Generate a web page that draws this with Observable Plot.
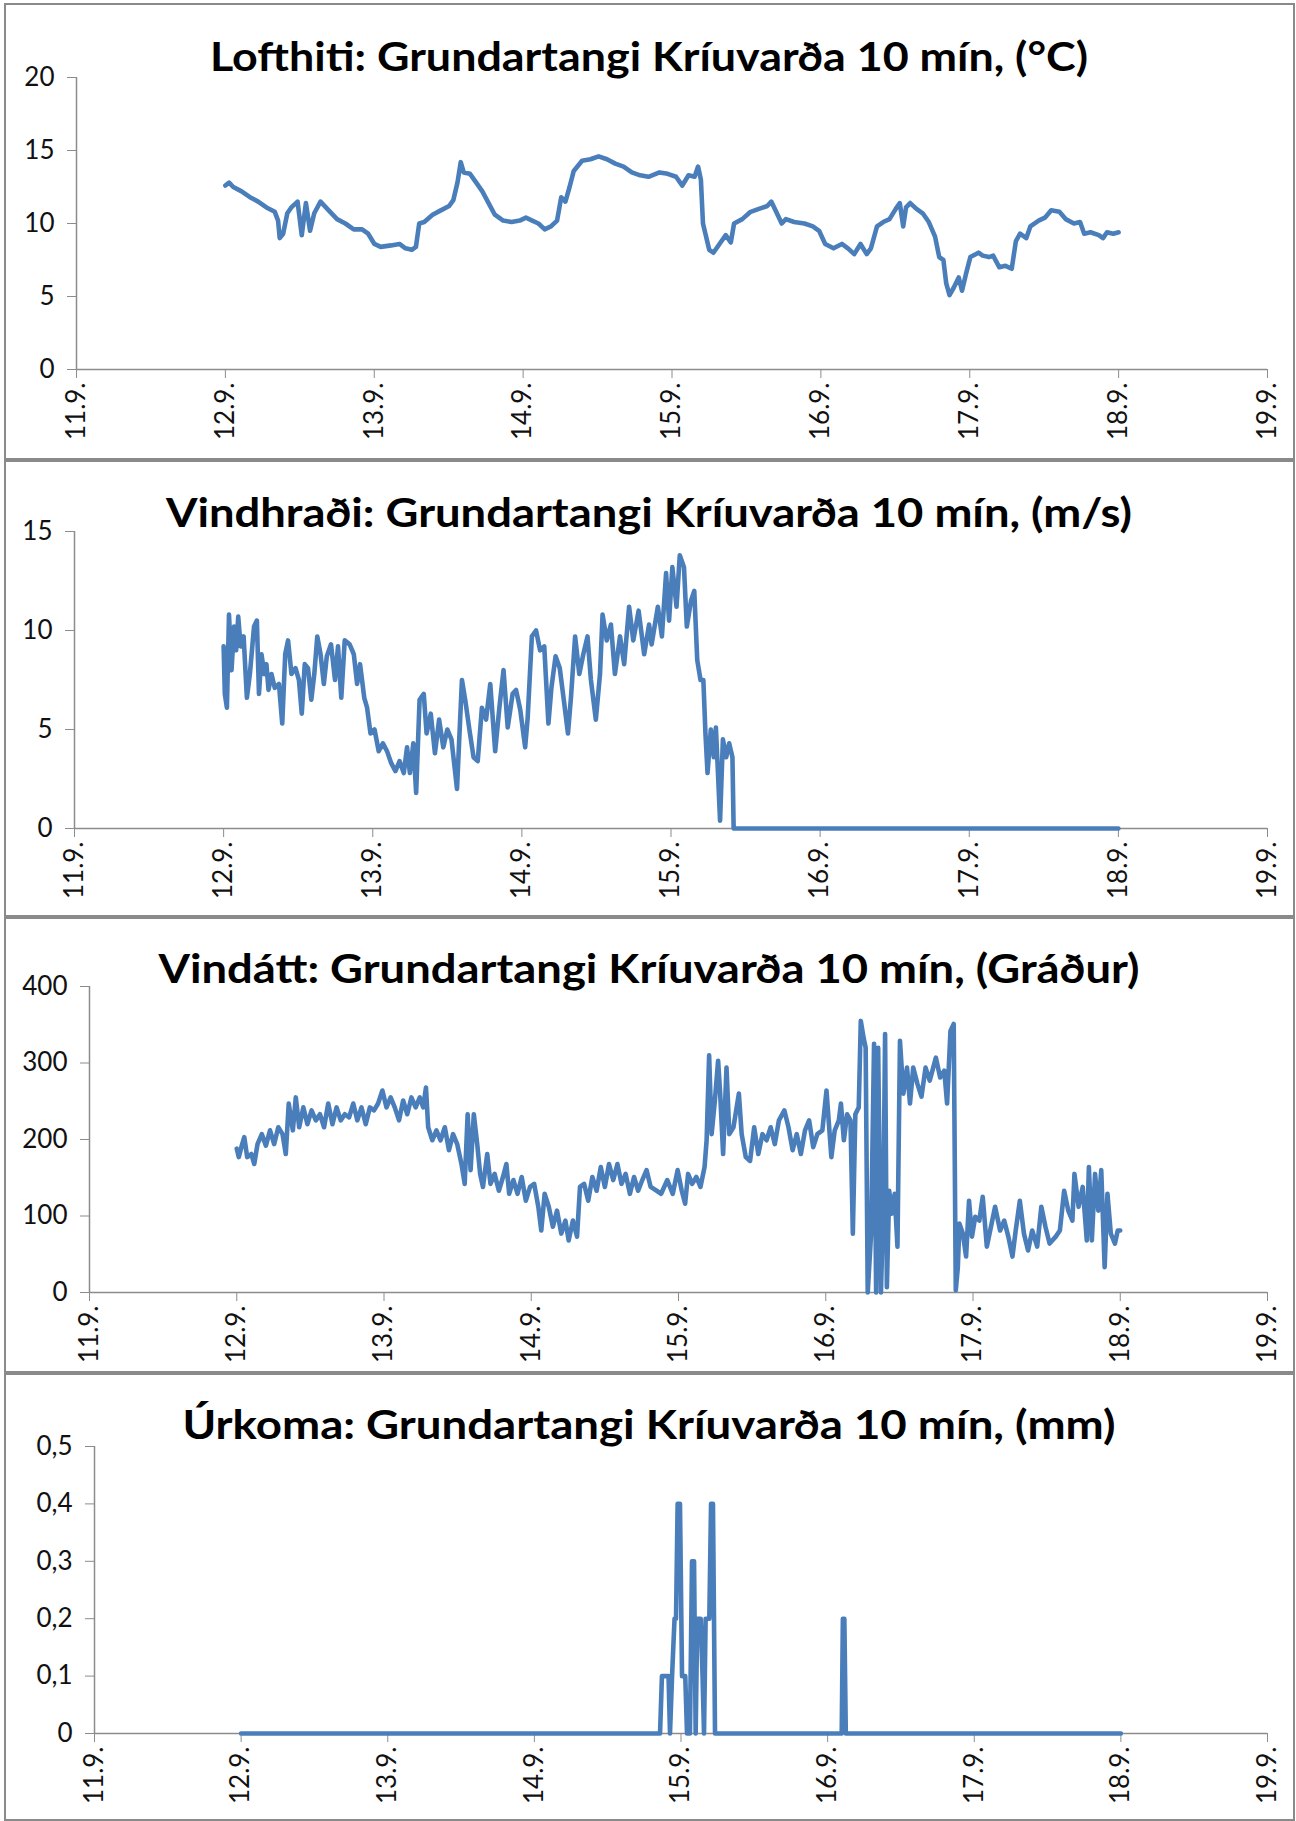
<!DOCTYPE html>
<html><head><meta charset="utf-8">
<script src="https://cdn.jsdelivr.net/npm/d3@7"></script>
<script src="https://cdn.jsdelivr.net/npm/@observablehq/plot@0.6"></script>
<style>
body{margin:0;background:#fff;}
#page{position:relative;width:1296px;height:1821px;background:#fff;overflow:hidden;}
.box{position:absolute;box-sizing:border-box;border:2px solid #8a8a8a;left:4px;width:1291px;}
.chart{position:absolute;left:0;}
.chart text{font-size:26px;}
</style></head><body><div id="page"></div>
<script>
// ---------- data (day of September, fractional; value) ----------
const titles = [
  "Lofthiti: Grundartangi Kríuvarða 10 mín, (°C)",
  "Vindhraði: Grundartangi Kríuvarða 10 mín, (m/s)",
  "Vindátt: Grundartangi Kríuvarða 10 mín, (Gráður)",
  "Úrkoma: Grundartangi Kríuvarða 10 mín, (mm)"
];
const xTicks = [11, 12, 13, 14, 15, 16, 17, 18, 19];
const xTickLabels = ["11.9.", "12.9.", "13.9.", "14.9.", "15.9.", "16.9.", "17.9.", "18.9.", "19.9."];
const yTicksTemp = [0, 5, 10, 15, 20];
const yTicksWind = [0, 5, 10, 15];
const yTicksDir = [0, 100, 200, 300, 400];
const yTicksRain = [0, 0.1, 0.2, 0.3, 0.4, 0.5];

const temperature = [
[12.000,12.6],[12.025,12.8],[12.053,12.5],[12.109,12.2],[12.165,11.8],[12.220,11.5],[12.276,11.1],[12.332,10.8],[12.354,10.2],[12.365,9.0],
[12.388,9.3],[12.416,10.7],[12.443,11.1],[12.485,11.5],[12.513,9.2],[12.541,11.4],[12.569,9.5],[12.597,10.7],[12.639,11.5],[12.694,10.9],
[12.750,10.3],[12.806,10.0],[12.862,9.6],[12.918,9.6],[12.959,9.3],[13.001,8.6],[13.043,8.4],[13.113,8.5],[13.169,8.6],[13.210,8.3],
[13.252,8.2],[13.280,8.4],[13.302,10.0],[13.336,10.1],[13.392,10.6],[13.447,10.9],[13.503,11.2],[13.531,11.6],[13.559,12.8],[13.581,14.2],
[13.601,13.5],[13.643,13.4],[13.685,12.8],[13.726,12.2],[13.768,11.4],[13.810,10.6],[13.866,10.2],[13.922,10.1],[13.977,10.2],[14.019,10.4],
[14.061,10.2],[14.103,10.0],[14.145,9.6],[14.187,9.8],[14.228,10.2],[14.256,11.8],[14.284,11.5],[14.312,12.5],[14.340,13.6],[14.396,14.3],
[14.452,14.4],[14.507,14.6],[14.563,14.4],[14.619,14.1],[14.675,13.9],[14.730,13.5],[14.786,13.3],[14.842,13.2],[14.916,13.5],[14.971,13.4],
[15.027,13.2],[15.069,12.6],[15.111,13.3],[15.152,13.2],[15.175,13.9],[15.194,13.0],[15.208,10.0],[15.250,8.2],[15.278,8.0],[15.319,8.6],
[15.361,9.2],[15.395,8.7],[15.417,10.0],[15.472,10.3],[15.528,10.8],[15.584,11.0],[15.640,11.2],[15.667,11.5],[15.695,10.9],[15.737,10.0],
[15.765,10.3],[15.820,10.1],[15.890,10.0],[15.946,9.8],[15.988,9.5],[16.029,8.6],[16.085,8.3],[16.141,8.6],[16.182,8.3],[16.224,7.9],
[16.266,8.6],[16.308,7.9],[16.336,8.3],[16.377,9.8],[16.419,10.1],[16.461,10.3],[16.503,11.0],[16.530,11.4],[16.553,9.8],[16.572,11.1],
[16.600,11.4],[16.642,11.0],[16.684,10.7],[16.725,10.1],[16.767,9.1],[16.795,7.7],[16.823,7.5],[16.842,5.9],[16.864,5.1],[16.892,5.6],
[16.926,6.3],[16.948,5.4],[16.976,6.6],[17.004,7.7],[17.059,8.0],[17.087,7.8],[17.129,7.7],[17.157,7.8],[17.199,7.0],[17.240,7.1],
[17.282,6.9],[17.310,8.8],[17.338,9.3],[17.380,9.0],[17.407,9.8],[17.463,10.2],[17.505,10.4],[17.547,10.9],[17.602,10.8],[17.644,10.3],
[17.700,10.0],[17.741,10.1],[17.769,9.3],[17.811,9.4],[17.867,9.2],[17.895,9.0],[17.922,9.4],[17.964,9.3],[18.000,9.4]
];

const windSpeed = [
[12.000,9.2],[12.008,6.8],[12.022,6.1],[12.036,10.8],[12.053,8.0],[12.070,10.2],[12.084,9.0],[12.098,10.7],[12.114,9.2],[12.134,9.7],
[12.156,6.6],[12.176,7.8],[12.204,10.2],[12.223,10.5],[12.237,6.8],[12.254,8.8],[12.273,7.8],[12.287,8.3],[12.301,7.0],[12.321,7.8],
[12.343,7.1],[12.371,7.3],[12.393,5.3],[12.413,8.8],[12.432,9.5],[12.455,7.8],[12.482,8.1],[12.505,7.5],[12.524,5.8],[12.544,8.3],
[12.566,8.1],[12.588,6.5],[12.608,7.8],[12.628,9.7],[12.650,8.8],[12.672,7.3],[12.692,8.7],[12.720,9.3],[12.747,7.5],[12.767,9.2],
[12.789,6.6],[12.812,9.5],[12.845,9.3],[12.873,8.8],[12.895,7.3],[12.915,8.3],[12.943,6.6],[12.962,6.1],[12.985,4.8],[13.012,5.0],
[13.040,3.9],[13.068,4.3],[13.096,3.9],[13.124,3.3],[13.152,2.9],[13.180,3.4],[13.208,2.8],[13.230,4.1],[13.249,2.8],[13.272,4.3],
[13.291,1.8],[13.314,6.5],[13.342,6.8],[13.361,4.8],[13.389,5.8],[13.417,3.8],[13.445,5.5],[13.473,4.1],[13.500,5.0],[13.528,4.5],
[13.565,2.0],[13.598,7.5],[13.620,6.5],[13.648,5.0],[13.676,3.6],[13.704,3.4],[13.732,6.1],[13.760,5.5],[13.788,7.3],[13.821,3.9],
[13.849,6.1],[13.877,8.0],[13.905,5.1],[13.938,6.8],[13.961,7.0],[13.989,6.0],[14.022,4.1],[14.039,5.6],[14.067,9.7],[14.095,10.0],
[14.122,9.0],[14.150,9.2],[14.178,5.3],[14.198,7.1],[14.226,8.7],[14.254,8.1],[14.281,6.5],[14.309,4.8],[14.329,6.6],[14.357,9.7],
[14.385,7.8],[14.412,8.8],[14.440,9.7],[14.463,7.5],[14.496,5.5],[14.524,7.8],[14.541,10.8],[14.569,9.5],[14.597,10.3],[14.624,7.8],
[14.658,9.7],[14.686,8.3],[14.719,11.2],[14.747,9.5],[14.783,11.0],[14.820,8.8],[14.853,10.3],[14.870,9.3],[14.912,11.2],[14.939,9.7],
[14.967,12.9],[14.987,10.5],[15.009,13.2],[15.037,11.2],[15.059,13.8],[15.087,13.2],[15.106,10.2],[15.134,11.5],[15.156,12.0],[15.176,8.5],
[15.198,7.5],[15.217,7.5],[15.231,4.8],[15.245,2.8],[15.267,5.0],[15.287,3.6],[15.301,5.1],[15.315,2.8],[15.329,0.4],[15.348,4.5],
[15.370,3.6],[15.390,4.3],[15.412,3.6],[15.420,0],[18.000,0]
];

const windDirection = [
[12.000,188],[12.014,177],[12.034,192],[12.051,203],[12.071,177],[12.099,181],[12.119,168],[12.141,194],[12.170,207],[12.198,192],
[12.226,212],[12.254,194],[12.282,216],[12.311,207],[12.333,181],[12.353,247],[12.381,212],[12.401,255],[12.424,216],[12.452,242],
[12.480,220],[12.508,238],[12.537,225],[12.565,233],[12.593,216],[12.621,247],[12.650,220],[12.678,242],[12.706,225],[12.734,233],
[12.763,229],[12.791,247],[12.819,225],[12.847,242],[12.876,220],[12.904,242],[12.932,238],[12.960,247],[12.989,264],[13.017,242],
[13.045,255],[13.073,242],[13.102,225],[13.130,251],[13.158,233],[13.186,255],[13.215,242],[13.243,255],[13.266,242],[13.285,268],
[13.300,216],[13.328,199],[13.356,212],[13.384,199],[13.413,216],[13.441,186],[13.469,207],[13.497,194],[13.526,168],[13.548,142],
[13.568,233],[13.588,160],[13.610,233],[13.633,194],[13.653,155],[13.672,138],[13.701,181],[13.723,142],[13.751,155],[13.780,133],
[13.808,151],[13.831,168],[13.850,129],[13.879,147],[13.907,129],[13.935,151],[13.963,120],[13.992,138],[14.020,142],[14.048,112],
[14.068,81],[14.091,129],[14.119,112],[14.147,86],[14.175,107],[14.204,77],[14.232,94],[14.254,68],[14.283,94],[14.311,73],
[14.331,138],[14.359,142],[14.387,120],[14.415,151],[14.444,133],[14.472,164],[14.500,138],[14.528,168],[14.557,147],[14.585,168],
[14.613,142],[14.641,155],[14.670,129],[14.698,151],[14.726,133],[14.754,147],[14.783,160],[14.811,138],[14.852,133],[14.882,129],
[14.924,147],[14.961,129],[14.994,160],[15.022,133],[15.045,116],[15.065,155],[15.093,142],[15.121,151],[15.149,138],[15.177,164],
[15.191,199],[15.208,310],[15.225,207],[15.247,251],[15.269,303],[15.283,260],[15.303,181],[15.326,294],[15.345,207],[15.373,216],
[15.410,260],[15.429,207],[15.457,177],[15.486,172],[15.514,216],[15.542,181],[15.570,207],[15.598,199],[15.626,216],[15.654,194],
[15.682,225],[15.719,238],[15.747,216],[15.775,186],[15.803,207],[15.831,181],[15.859,212],[15.887,225],[15.915,190],[15.943,207],
[15.977,212],[16.005,264],[16.038,177],[16.061,212],[16.089,225],[16.103,247],[16.123,199],[16.145,233],[16.168,225],[16.184,77],
[16.201,233],[16.224,242],[16.238,355],[16.257,333],[16.271,320],[16.285,0],[16.308,77],[16.328,325],[16.342,0],[16.356,320],
[16.375,0],[16.392,129],[16.403,338],[16.415,7],[16.431,133],[16.448,103],[16.468,129],[16.487,60],[16.504,329],[16.527,260],
[16.552,294],[16.572,247],[16.594,294],[16.622,273],[16.650,256],[16.678,294],[16.706,277],[16.748,307],[16.777,281],[16.805,290],
[16.824,247],[16.847,342],[16.869,351],[16.883,3],[16.897,33],[16.908,90],[16.931,77],[16.953,47],[16.973,120],[16.993,73],
[17.015,99],[17.043,94],[17.066,125],[17.094,60],[17.122,86],[17.150,112],[17.184,81],[17.212,94],[17.240,73],[17.268,47],
[17.290,81],[17.318,120],[17.346,77],[17.374,55],[17.402,81],[17.436,60],[17.464,112],[17.492,86],[17.520,64],[17.562,73],
[17.590,81],[17.619,133],[17.647,107],[17.675,94],[17.689,155],[17.717,112],[17.745,138],[17.773,68],[17.787,164],[17.807,68],
[17.829,155],[17.851,107],[17.871,160],[17.894,33],[17.913,129],[17.936,77],[17.964,64],[17.983,81],[18.000,81]
];

const precipitation = [
[12.000,0],[14.857,0],[14.870,0.1],[14.915,0.1],[14.925,0],[14.939,0.1],[14.956,0.2],[14.966,0.2],[14.977,0.4],[14.993,0.4],
[15.007,0.1],[15.029,0.1],[15.041,0],[15.061,0],[15.075,0.3],[15.089,0.3],[15.100,0],[15.111,0.2],[15.134,0.2],[15.147,0.1],
[15.157,0],[15.168,0.2],[15.193,0.2],[15.205,0.4],[15.218,0.4],[15.232,0],[16.096,0],[16.104,0.2],[16.114,0.2],[16.124,0],
[18.000,0]
];

// ---------- layout ----------
const panels = [
  {series: temperature,   yTicks: yTicksTemp, yMax: 20,  boxTop: 3,    boxH: 459, svgTop: 5,    svgH: 454, mT: 72, mB: 90, mL: 76, titleY: 71,   titleW: 878},
  {series: windSpeed,     yTicks: yTicksWind, yMax: 15,  boxTop: 458,  boxH: 461, svgTop: 461,  svgH: 455, mT: 70, mB: 88, mL: 74, titleY: 527,  titleW: 966},
  {series: windDirection, yTicks: yTicksDir,  yMax: 400, boxTop: 915,  boxH: 460, svgTop: 918,  svgH: 454, mT: 68, mB: 80, mL: 89, titleY: 983,  titleW: 981},
  {series: precipitation, yTicks: yTicksRain, yMax: 0.5, boxTop: 1371, boxH: 450, svgTop: 1374, svgH: 444, mT: 72, mB: 85, mL: 94, titleY: 1439, titleW: 933}
];

const lineColor = "#4a7ebb";
const axisGray = "#8c8c8c";
const textColor = "#111";
const fontStack = "Lato, 'Open Sans', sans-serif";
const page = document.getElementById("page");
const fmtY = d => String(+(+d).toFixed(1)).replace(".", ",");

panels.forEach((p) => {
  const box = document.createElement("div");
  box.className = "box";
  box.style.top = p.boxTop + "px";
  box.style.height = p.boxH + "px";
  page.appendChild(box);

  const data = p.series.map(([d, v]) => ({d, v}));
  const chart = Plot.plot({
    width: 1296,
    height: p.svgH,
    marginLeft: p.mL,
    marginRight: 29,
    marginTop: p.mT,
    marginBottom: p.mB,
    style: {fontFamily: fontStack, fontSize: "26px", background: "transparent", overflow: "visible"},
    x: {domain: [11, 19]},
    y: {domain: [0, p.yMax]},
    marks: [
      Plot.axisX(xTicks, {tickFormat: d => xTickLabels[xTicks.indexOf(d)], tickRotate: -90, tickSize: 9, tickPadding: 4, stroke: axisGray, color: textColor, fontSize: 26, label: null}),
      Plot.axisY(p.yTicks, {tickFormat: fmtY, tickSize: 9, tickPadding: 13, stroke: axisGray, color: textColor, fontSize: 26, label: null}),
      Plot.ruleX([11], {y1: 0, y2: p.yMax, stroke: axisGray, strokeWidth: 1.5}),
      Plot.ruleY([0], {x1: 11, x2: 19, stroke: axisGray, strokeWidth: 1.5}),
      Plot.line(data, {x: "d", y: "v", stroke: lineColor, strokeWidth: 4.6, strokeLinejoin: "round", strokeLinecap: "round"})
    ]
  });
  chart.classList.add("chart");
  chart.style.top = p.svgTop + "px";
  page.appendChild(chart);
});

// titles
const tsvg = d3.create("svg")
  .attr("width", 1296).attr("height", 1821)
  .style("position", "absolute").style("left", "0px").style("top", "0px")
  .style("pointer-events", "none");
panels.forEach((p, i) => {
  tsvg.append("text")
    .attr("x", 649).attr("y", p.titleY)
    .attr("text-anchor", "middle")
    .attr("font-family", fontStack)
    .attr("font-weight", 700)
    .attr("font-size", 40)
    .attr("fill", "#000")
    .attr("textLength", p.titleW)
    .attr("lengthAdjust", "spacingAndGlyphs")
    .text(titles[i]);
});
page.appendChild(tsvg.node());
</script></body></html>
